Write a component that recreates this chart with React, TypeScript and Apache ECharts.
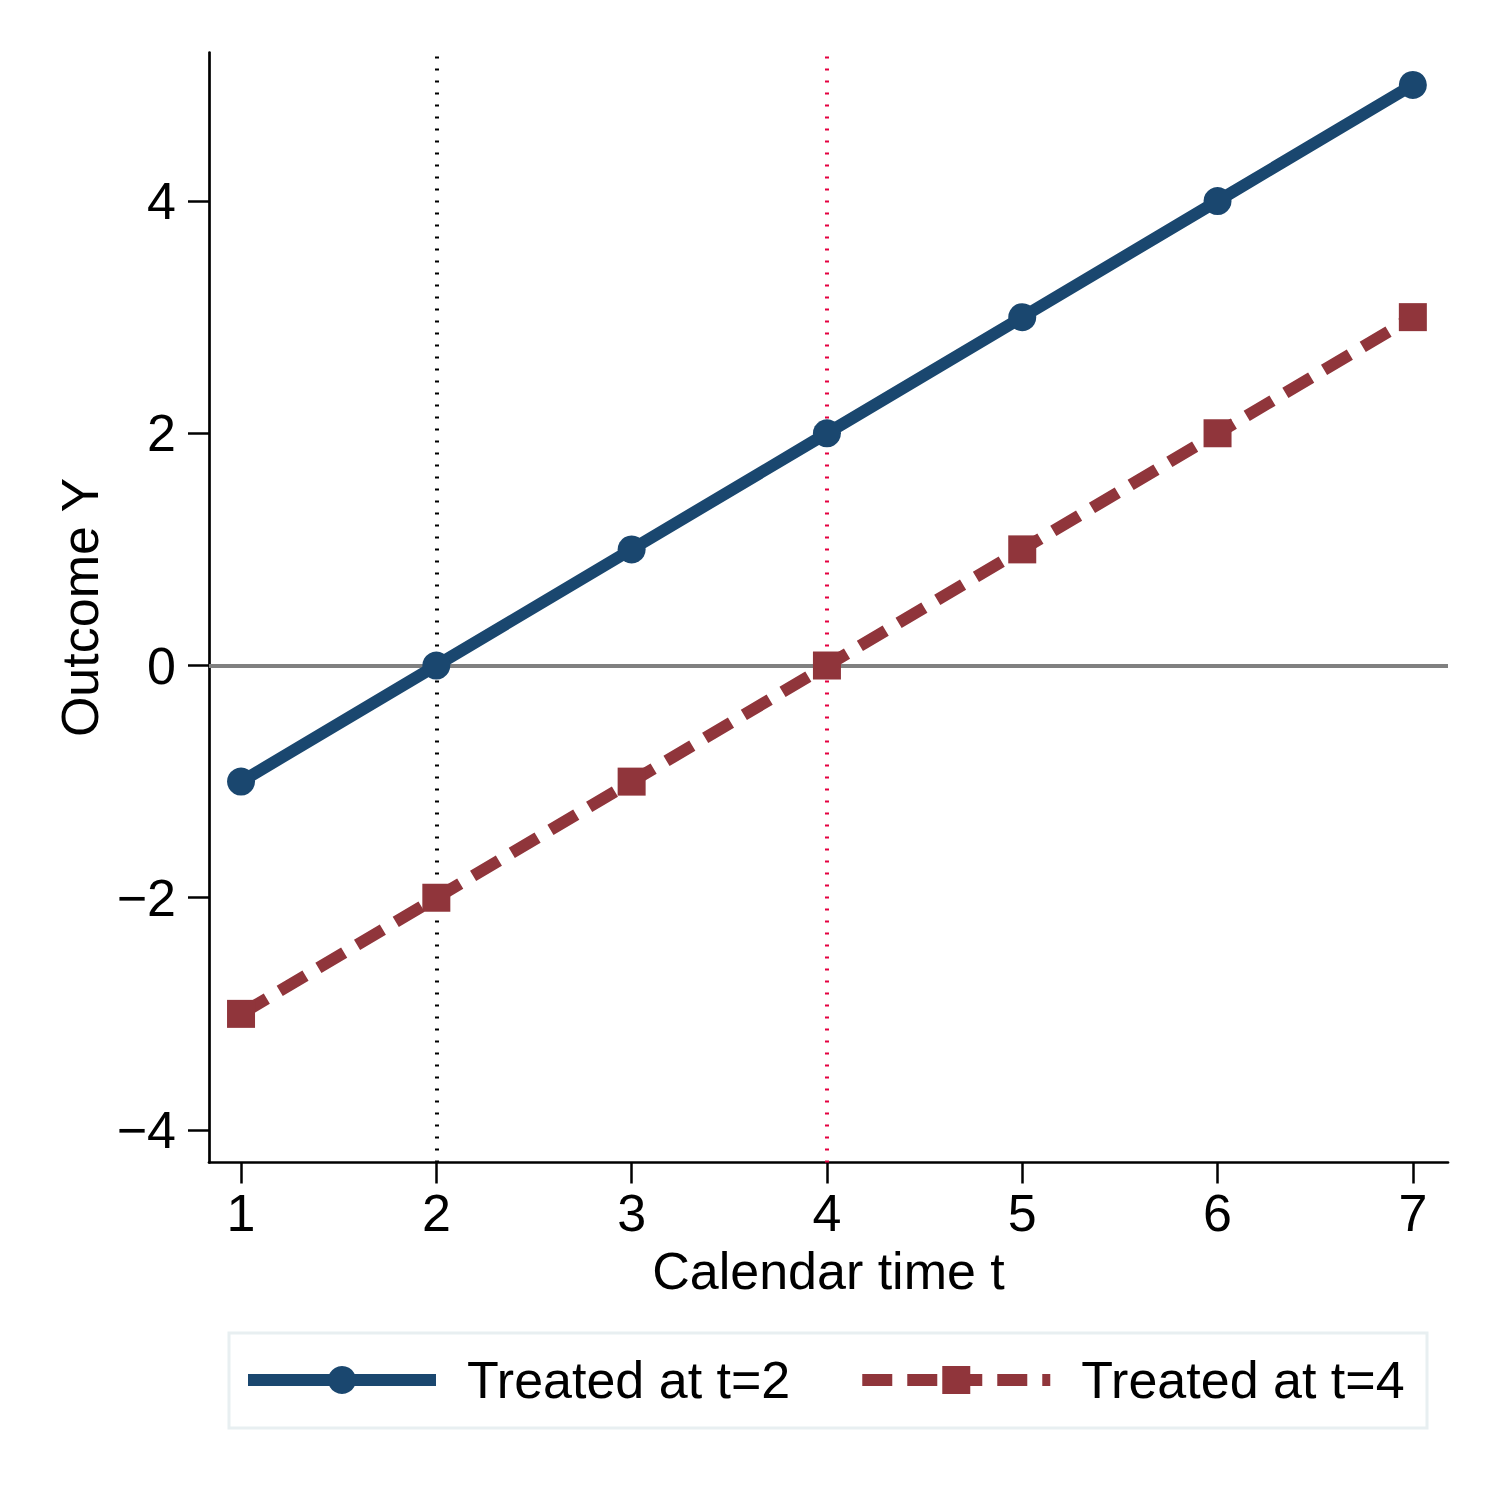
import React, { useEffect, useRef } from "react";
import * as echarts from "echarts";

// ---- data ----
const timePoints = [1, 2, 3, 4, 5, 6, 7];
const treatedAt2 = [-1, 0, 1, 2, 3, 4, 5];
const treatedAt4 = [-3, -2, -1, 0, 1, 2, 3];
const xTickValues = [1, 2, 3, 4, 5, 6, 7];
const yTickValues = [-4, -2, 0, 2, 4];
const treatmentTimes = [2, 4];
const seriesNames = ["Treated at t=2", "Treated at t=4"];
const xAxisName = "Calendar time t";
const yAxisName = "Outcome Y";
const xRange = [0.836, 7.18];
const yRange = [-4.28, 5.279];

const FONT = "'Liberation Sans', Arial, Helvetica, sans-serif";
const NAVY = "#1a476f";
const MAROON = "#90353b";

const fmt = (v: number) => String(v).replace("-", "\u2212");

export default function App() {
  const ref = useRef<HTMLDivElement>(null);

  useEffect(() => {
    if (!ref.current) return;
    const chart = echarts.init(ref.current, undefined, { renderer: "svg" });

    const axisCommon = {
      type: "value" as const,
      nameLocation: "middle" as const,
      nameTextStyle: { fontSize: 52, color: "#000", fontFamily: FONT },
      axisLine: { show: true, onZero: false, lineStyle: { color: "#000", width: 2.7 } },
      splitLine: { show: false },
    };

    const option: any = {
      animation: false,
      backgroundColor: "#ffffff",
      textStyle: { fontFamily: FONT },
      grid: {
        left: 209,
        right: 52,
        top: 52.5,
        bottom: 337.5,
        containLabel: false,
        outerBoundsMode: "none",
      },
      xAxis: {
        ...axisCommon,
        min: xRange[0],
        max: xRange[1],
        name: xAxisName,
        nameGap: 82,
        axisTick: {
          show: true,
          length: 21,
          customValues: xTickValues,
          lineStyle: { color: "#000", width: 2.5 },
        },
        axisLabel: {
          customValues: xTickValues,
          fontSize: 52,
          color: "#000",
          margin: 24,
          fontFamily: FONT,
          formatter: fmt,
        },
      },
      yAxis: {
        ...axisCommon,
        min: yRange[0],
        max: yRange[1],
        name: yAxisName,
        nameGap: 100,
        axisTick: {
          show: true,
          length: 21,
          customValues: yTickValues,
          lineStyle: { color: "#000", width: 2.5 },
        },
        axisLabel: {
          customValues: yTickValues,
          fontSize: 52,
          color: "#000",
          margin: 33,
          fontFamily: FONT,
          formatter: fmt,
        },
      },
      legend: {
        data: seriesNames,
        left: 242,
        top: 1350,
        padding: 0,
        orient: "horizontal",
        itemWidth: 188,
        itemHeight: 35,
        itemGap: 66,
        selectedMode: false,
        textStyle: {
          fontSize: 52,
          color: "#000",
          fontFamily: FONT,
          lineHeight: 60,
          padding: [0, 0, 0, 26],
        },
        lineStyle: { width: 12 },
      },
      graphic: [
        {
          type: "rect",
          z: -1,
          silent: true,
          shape: { x: 229, y: 1333, width: 1198, height: 95 },
          style: { fill: "#ffffff", stroke: "#e8eff1", lineWidth: 3 },
        },
      ],
      series: [
        {
          name: seriesNames[0],
          type: "line",
          data: timePoints.map((t, i) => [t, treatedAt2[i]]),
          symbol: "circle",
          symbolSize: 28,
          showAllSymbol: true,
          lineStyle: { color: NAVY, width: 12, type: "solid" },
          itemStyle: { color: NAVY },
          emphasis: { disabled: true },
          z: 3,
          markLine: {
            silent: true,
            z: 1,
            symbol: ["none", "none"],
            label: { show: false },
            emphasis: { disabled: true },
            data: [
              { yAxis: 0, lineStyle: { color: "#808080", width: 4, type: "solid" } },
              { xAxis: treatmentTimes[0], lineStyle: { color: "#000000", width: 4, type: [2, 10] } },
              { xAxis: treatmentTimes[1], lineStyle: { color: "#e4003f", width: 4, type: [2, 10] } },
            ],
          },
        },
        {
          name: seriesNames[1],
          type: "line",
          data: timePoints.map((t, i) => [t, treatedAt4[i]]),
          symbol: "rect",
          symbolSize: 28,
          showAllSymbol: true,
          lineStyle: { color: MAROON, width: 12, type: [30, 15] },
          itemStyle: { color: MAROON },
          emphasis: { disabled: true },
          z: 3,
        },
      ],
    };

    chart.setOption(option);
    return () => chart.dispose();
  }, []);

  return (
    <div
      ref={ref}
      style={{ position: "absolute", left: 0, top: 0, width: 1500, height: 1500 }}
    />
  );
}
